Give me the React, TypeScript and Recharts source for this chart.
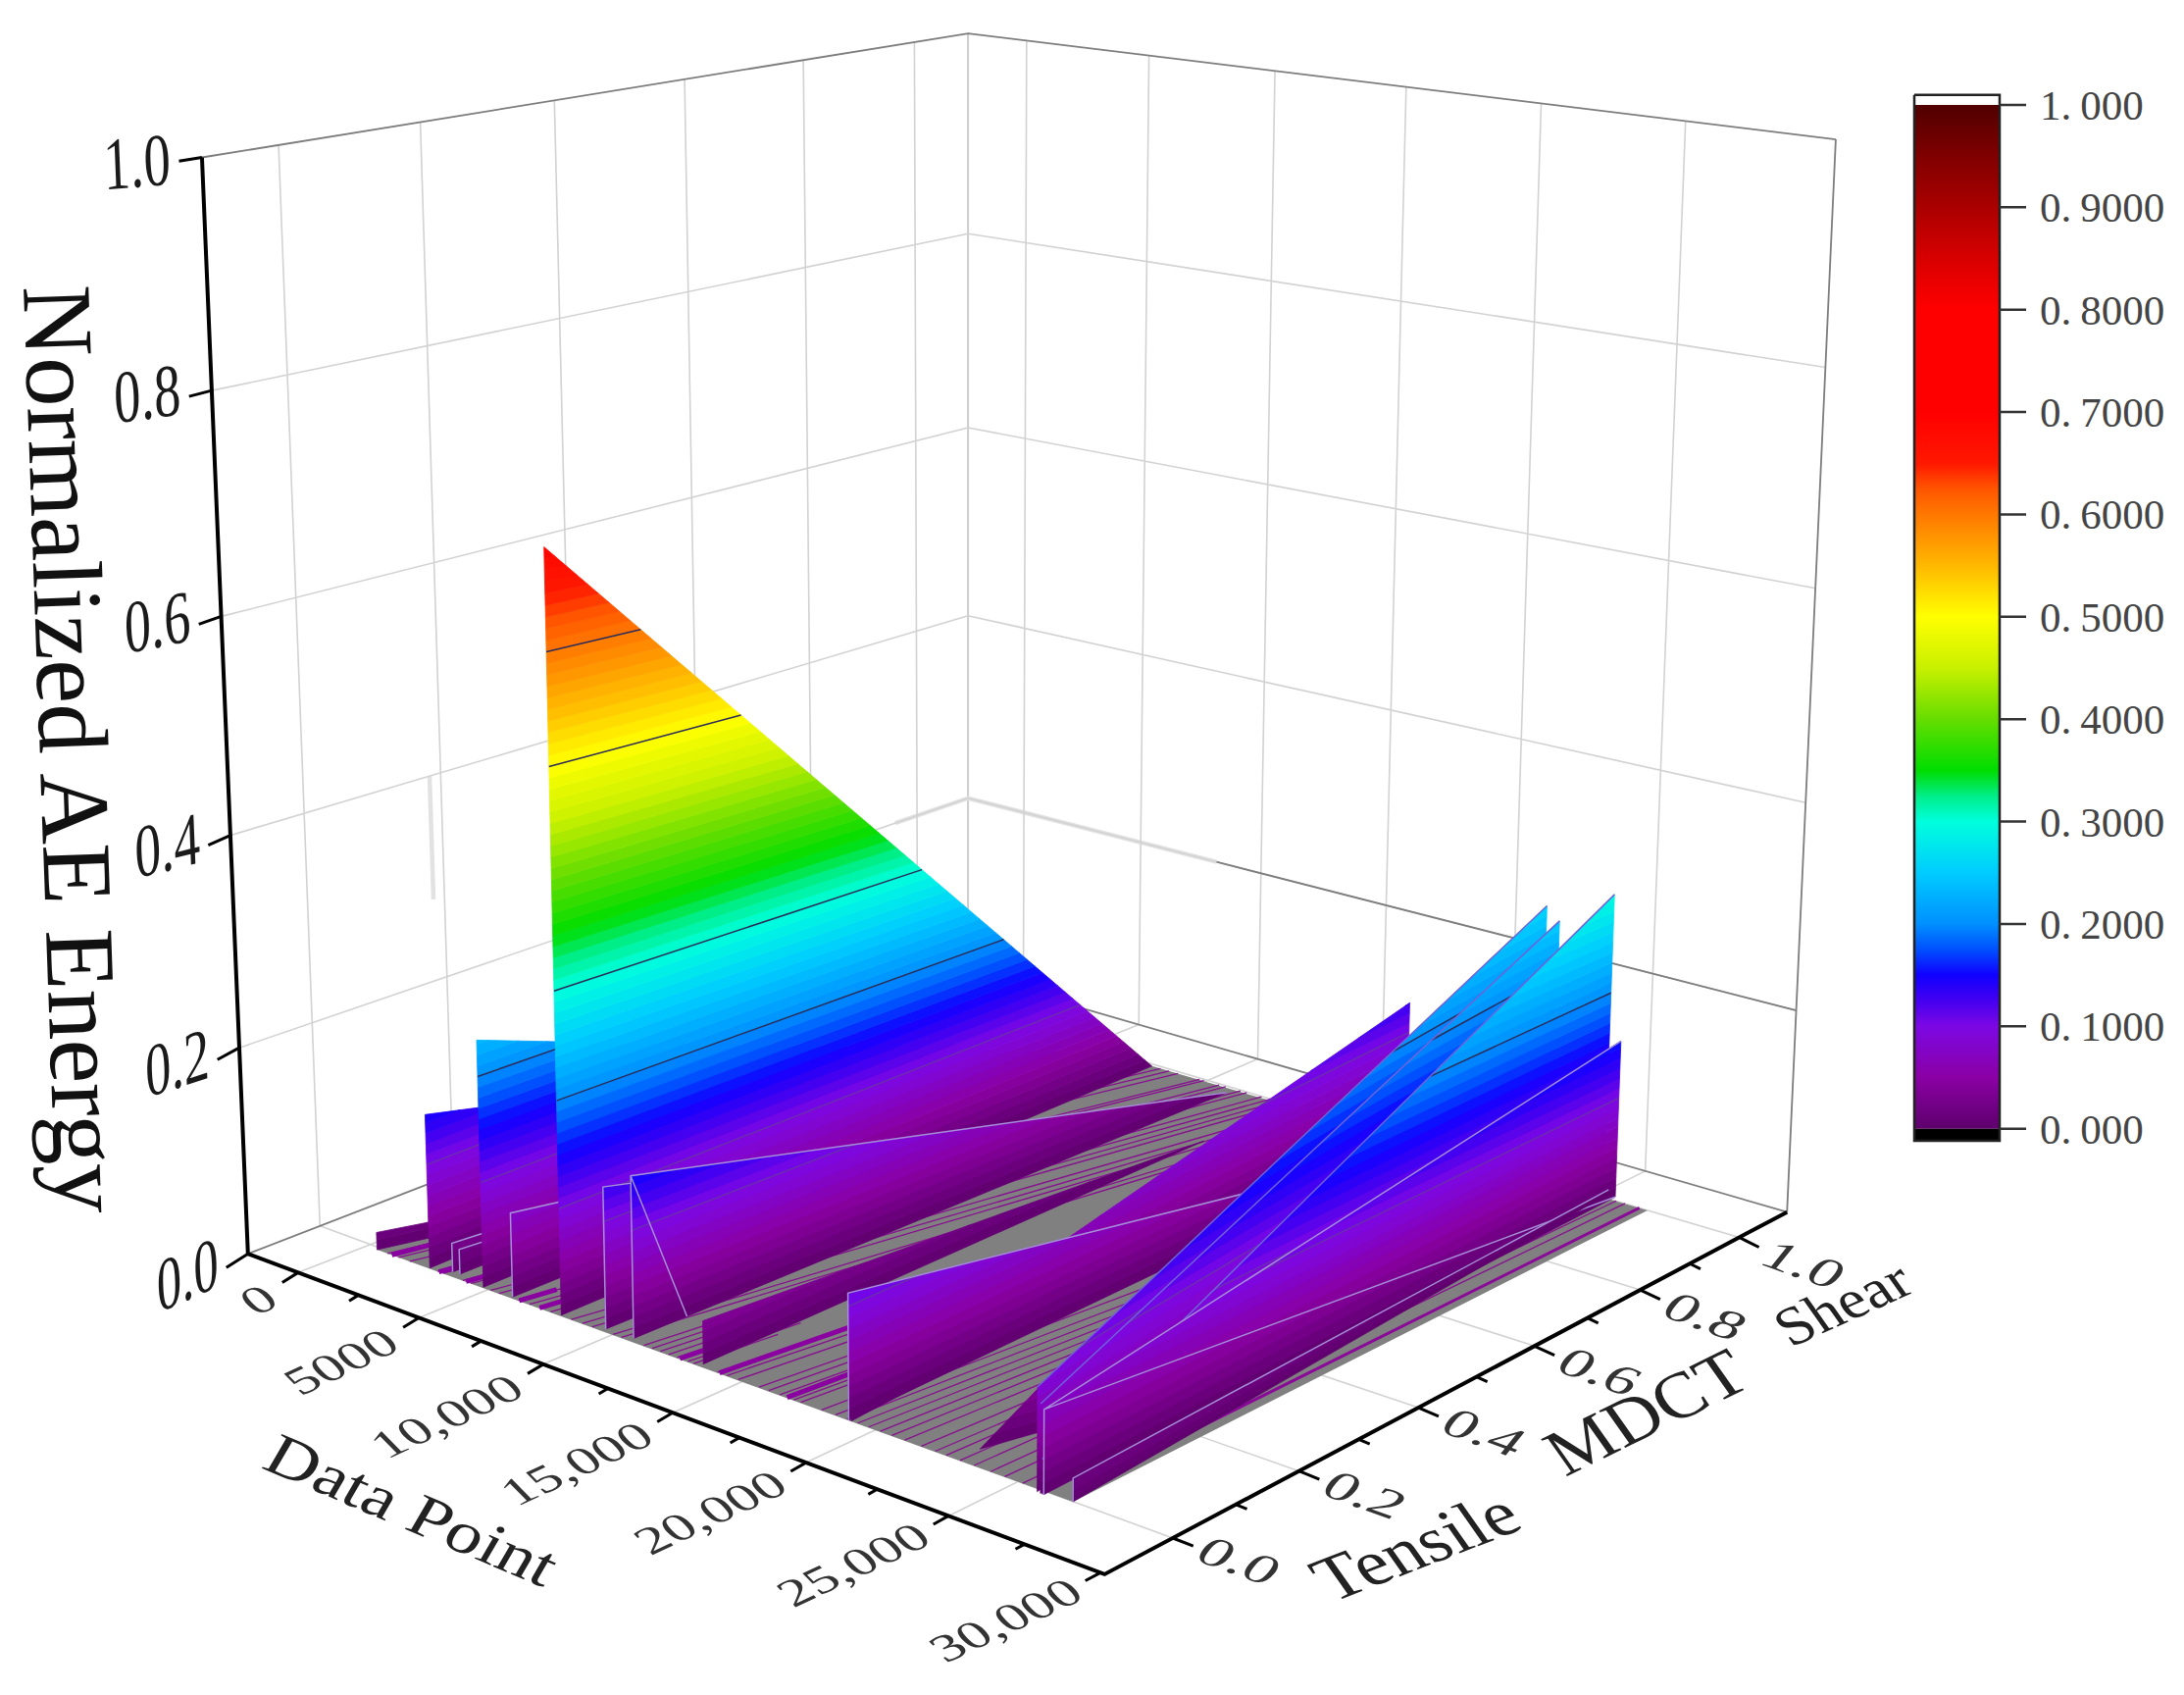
import React from 'react';
import { ComposedChart, XAxis, YAxis, Line, Area, Scatter } from 'recharts';

// ---------- values ----------
const xTicks = [0, 5000, 10000, 15000, 20000, 25000, 30000];
const xTickLabels = ['0', '5000', '10,000', '15,000', '20,000', '25,000', '30,000'];
const xMinorTicks = [2500, 7500, 12500, 17500, 22500, 27500];
const yTicks = [0, 0.2, 0.4, 0.6, 0.8, 1.0];
const yTickLabels = ['0.0', '0.2', '0.4', '0.6', '0.8', '1.0'];
const yMinorTicks = [0.1, 0.3, 0.5, 0.7, 0.9];
const zTicks = [0, 0.2, 0.4, 0.6, 0.8, 1.0];
const zTickLabels = ['0.0', '0.2', '0.4', '0.6', '0.8', '1.0'];
const barTicks = [0, 0.1, 0.2, 0.3, 0.4, 0.5, 0.6, 0.7, 0.8, 0.9, 1.0];
const barTickLabels = ['0.000', '0.1000', '0.2000', '0.3000', '0.4000', '0.5000', '0.6000', '0.7000', '0.8000', '0.9000', '1.000'];

// walls, painted back to front
const wallNames = ['W0', 'W1', 'S1', 'S2', 'W2', 'W3', 'Big', 'W4', 'W5', 'Bd', 'RA', 'R0', 'RT', 'RB', 'RC', 'RD', 'RE', 'RF'];
const wallFrontX = [1100, 3209, 3965, 4238, 5368, 6491, 8433, 10089, 11118, 13771, 19373, 19277, 23140, 25863, 25990, 26050, 26100, 26920];
const wallFrontY = [-0.029, -0.026, -0.019, -0.018, -0.024, -0.022, -0.021, -0.016, -0.014, -0.012, -0.012, -0.012, 0.024, -0.01, -0.011, -0.011, -0.011, -0.004];
const wallFrontZ = [0.017, 0.148, 0.028, 0.024, 0.234, 0.08, 0.69, 0.132, 0.15, 0.0395, 0.03, 0.1116, 0, 0.0885, 0.0758, 0.0297, 0.072, 0.02];
const wallRearX = [10360, 7541, 6625, 6842, 9841, 10093, 12490, 13880, 15130, 16420, 20165, 21097, 23741, 23885, 24350, 26190, 26580, 26350];
const wallRearY = [0.562, 0.683, 0.386, 0.366, 0.732, 0.573, 0.784, 0.683, 0.8, 0.696, 0.899, 0.851, 0.091, 0.959, 0.959, 0.959, 0.959, 0.959];
const wallRearZ = [0, 0, 0, 0, 0, 0, 0, 0, 0, 0, 0.131, 0, 0.04, 0.26, 0.25, 0.297, 0.157, 0.004];
const wallOutlined = ['S1', 'S2', 'W3', 'W4', 'W5', 'R0', 'RE', 'RF'];
const wallTopOnly = ['RB', 'RC', 'RD'];
const contourLevels = [0.1, 0.2, 0.3, 0.5, 0.6];
const diagonalWalls = ['W5', 'RE'];
const diagonalEnds = [0.09, 1];

// floor outline
const hullX = [1071, 26920, 27600, 12490];
const hullY = [-0.029, -0.004, 0.964, 0.784];

// streaks on the floor, by data point where they meet the front edge
const streakX = [1521, 1972, 2425, 3553, 3777, 4567, 4904, 5675, 6003, 6770, 7208, 7644, 8030, 8849, 9287, 9670, 10473, 10787, 14415, 14782, 15196, 15965, 16320, 16732, 17245, 17499, 18267, 18778, 19200, 19600, 20000, 20400, 20800, 21240, 21813, 22290, 22673, 23150, 23630, 24204, 24686, 25290, 25740];
const shortStreakX = [11633, 11944, 12258, 12575, 12890, 13310, 13520];
const shortStreakTo = [0.14, 0.16, 0.18, 0.15, 0.2, 0.16, 0.12];
const thickX = [1700, 3600, 4700, 6800, 7600, 13000, 14500, 17000, 26500];
const thickFrom = [0, 0, 0, 0, 0, 0, 0, 0, 0.05];
const thickTo = [0.06, 0.05, 0.05, 0.05, 0.05, 0.05, 0.25, 0.13, 1];

// colour map
const cmapValues = [0, 0.05, 0.1, 0.125, 0.15, 0.175, 0.2, 0.25, 0.3, 0.325, 0.35, 0.4, 0.45, 0.5, 0.55, 0.6, 0.625, 0.65, 0.7, 0.8, 0.85, 0.9, 0.95, 1];
const cmapColors = ['#5e006c', '#8a00a4', '#7d08e4', '#4400f0', '#1000ff', '#0050ff', '#0090ff', '#00ccff', '#00ffdd', '#00ee88', '#00dd00', '#66dd00', '#c8f000', '#ffff00', '#ffb800', '#ff7800', '#ff5500', '#ff1800', '#ff0000', '#ff0000', '#d80000', '#aa0000', '#800000', '#500000'];

// ---------- camera ----------
const W = 2227;
const H = 1728;
const SCALE = 2227 / 1568;
const FLOOR = [[178, 900], [793, 1130], [1283, 870], [695, 572]];
const FRAME_FLOOR = [[178, 900], [793, 1130], [1283, 870], [695, 700]];
const TOP = [[145, 113], [800, 176], [1318, 100], [695, 24]];
const uStops = [0.0585, 0.1995, 0.3447, 0.4959, 0.6515, 0.8179, 0.9951];
const vStops = [0.1, 0.285, 0.46, 0.63, 0.785, 0.93];

const piecewise = (t: number, xs: number[], ys: number[]) => {
  let i = 0;
  while (i < xs.length - 2 && t > xs[i + 1]) i++;
  return ys[i] + ((t - xs[i]) * (ys[i + 1] - ys[i])) / (xs[i + 1] - xs[i]);
};
const U = (x: number) => piecewise(x, xTicks, uStops);
const V = (y: number) => piecewise(y, yTicks, vStops);
const bil = (q: number[][], u: number, v: number, k: number) =>
  q[0][k] * (1 - u) * (1 - v) + q[1][k] * u * (1 - v) + q[2][k] * u * v + q[3][k] * (1 - u) * v;
const project = (floor: number[][], u: number, v: number, z: number) => {
  const g = z / (1 + 0.08 * (1 - z));
  const f = [bil(floor, u, v, 0), bil(floor, u, v, 1)];
  const t = [bil(TOP, u, v, 0), bil(TOP, u, v, 1)];
  return { px: (f[0] + (t[0] - f[0]) * g) * SCALE, py: (f[1] + (t[1] - f[1]) * g) * SCALE };
};
const box = (u: number, v: number, z: number) => project(FLOOR, u, v, z);
const frame = (u: number, v: number, z: number) => project(FRAME_FLOOR, u, v, z);
const RIGHT_WALL_SHIFT = 0.009;
type P = { px: number; py: number | null };

const rowsOf = (segs: P[][]) => {
  const out: P[] = [];
  segs.forEach((s) => {
    s.forEach((p) => out.push(p));
    out.push({ px: s[s.length - 1].px, py: null });
  });
  return out;
};

const envelope = (poly: { px: number; py: number }[]) => {
  const xs = Array.from(new Set(poly.map((p) => p.px))).sort((a, b) => a - b);
  return xs.map((x) => {
    const ys: number[] = [];
    poly.forEach((p, i) => {
      const q = poly[(i + 1) % poly.length];
      if (p.px === x) ys.push(p.py);
      if ((p.px - x) * (q.px - x) < 0) ys.push(p.py + ((x - p.px) * (q.py - p.py)) / (q.px - p.px));
    });
    return { px: x, range: [Math.min(...ys), Math.max(...ys)] };
  });
};

const hex = (c: string) => [1, 3, 5].map((i) => parseInt(c.slice(i, i + 2), 16));
const colourAt = (z: number) => {
  let i = 0;
  while (i < cmapValues.length - 2 && z > cmapValues[i + 1]) i++;
  const t = Math.min(1, Math.max(0, (z - cmapValues[i]) / (cmapValues[i + 1] - cmapValues[i])));
  const a = hex(cmapColors[i]);
  const b = hex(cmapColors[i + 1]);
  return `rgb(${a.map((v, k) => Math.round(v + (b[k] - v) * t)).join(',')})`;
};

// ---------- wall geometry ----------
const wallEnd = (i: number, rear: boolean, z: number) =>
  rear ? box(U(wallRearX[i]), V(wallRearY[i]), z) : box(U(wallFrontX[i]), V(wallFrontY[i]), z);
const lerp = (a: any, b: any, t: number) => ({ px: a.px + (b.px - a.px) * t, py: a.py + (b.py - a.py) * t });
const wallLevelRange = (i: number, z: number) => {
  const za = wallFrontZ[i];
  const zb = wallRearZ[i];
  if (za === zb) return [0, 1];
  const t0 = wallEnd(i, false, za);
  const t1 = wallEnd(i, true, zb);
  const a = wallEnd(i, false, z);
  const c = wallEnd(i, true, z);
  const dx1 = c.px - a.px;
  const dy1 = c.py - a.py;
  const dx2 = t1.px - t0.px;
  const dy2 = t1.py - t0.py;
  const den = dx1 * dy2 - dy1 * dx2;
  const t = den === 0 ? 0 : Math.min(1, Math.max(0, ((t0.px - a.px) * dy2 - (t0.py - a.py) * dx2) / den));
  if (za > zb) return [0, z <= zb ? 1 : t];
  return [z <= za ? 0 : t, 1];
};
const wallPoint = (i: number, t: number, z: number) => lerp(wallEnd(i, false, z), wallEnd(i, true, z), t);
const wallStrips = (i: number) => {
  const a = wallFrontZ[i];
  const b = wallRearZ[i];
  const top = Math.max(a, b);
  const levels = new Set<number>([0, a, b]);
  for (let k = 1; k * 0.01 < top; k++) levels.add(k * 0.01);
  const sorted = Array.from(levels).sort((m, n) => m - n);
  const strips: { rows: any[]; colour: string }[] = [];
  for (let k = 0; k + 1 < sorted.length; k++) {
    const lo = sorted[k];
    const hi = sorted[k + 1];
    const r0 = wallLevelRange(i, lo);
    const r1 = wallLevelRange(i, hi);
    const poly = [wallPoint(i, r0[0], lo), wallPoint(i, r0[1], lo), wallPoint(i, r1[1], hi), wallPoint(i, r1[0], hi)];
    strips.push({ rows: envelope(poly), colour: colourAt((lo + hi) / 2) });
  }
  return strips;
};
const wallContours = (i: number, level: number) => {
  if (level >= Math.max(wallFrontZ[i], wallRearZ[i])) return [];
  const r = wallLevelRange(i, level);
  return [[wallPoint(i, r[0], level), wallPoint(i, r[1], level)]];
};
const wallOutline = (i: number) => {
  const name = wallNames[i];
  const segs: P[][] = [];
  if (wallTopOnly.includes(name)) {
    segs.push([wallEnd(i, false, wallFrontZ[i]), wallEnd(i, true, wallRearZ[i])]);
  }
  if (wallOutlined.includes(name)) {
    segs.push([wallEnd(i, false, 0), wallEnd(i, false, wallFrontZ[i]), wallEnd(i, true, wallRearZ[i])]);
    const d = diagonalWalls.indexOf(name);
    if (d >= 0) segs.push([wallEnd(i, false, wallFrontZ[i]), wallPoint(i, diagonalEnds[d], 0)]);
  }
  return segs;
};

// ---------- scaffolding built from the ticks ----------
const gridSegs: P[][] = [];
xTicks.slice(0, 6).map(U).forEach((u) => {
  gridSegs.push([frame(u + RIGHT_WALL_SHIFT, 1, 0), frame(u + RIGHT_WALL_SHIFT, 1, 1)]);
  gridSegs.push([frame(u, 0, 0), frame(u + RIGHT_WALL_SHIFT, 1, 0)]);
});
yTicks.map(V).forEach((v) => {
  gridSegs.push([frame(0, v, 0), frame(0, v, 1)]);
  gridSegs.push([frame(0, v, 0), frame(1, v, 0)]);
});
zTicks.slice(1, 5).forEach((z) => {
  gridSegs.push([frame(0, 0, z), frame(0, 1, z)]);
  gridSegs.push([frame(0, 1, z), frame(1, 1, z)]);
});
const frameSegs: P[][] = [
  [frame(0, 0, 1), frame(0, 1, 1), frame(1, 1, 1)],
  [frame(0, 0, 0), frame(0, 1, 0), frame(1, 1, 0)],
  [frame(1, 1, 0), frame(1, 1, 1)],
  [frame(0.3, 1, 0.2), frame(1, 1, 0.2)],
];
const paleSegs: P[][] = [[frame(0, 1, 0), frame(0, 1, 1)]];
const ghostSegs: P[][] = [
  [frame(0, 0.27, 0.4), frame(0, 0.27, 0.28)],
  [frame(0, 0.9, 0.2), frame(0, 1, 0.2), frame(0.3, 1, 0.2)],
];
const axisSegs: P[][] = [[frame(0, 0, 1), frame(0, 0, 0), frame(1, 0, 0), frame(1, 1, 0)]];
const tickSegs: P[][] = [];
xTicks.forEach((x) => tickSegs.push([box(U(x), 0, 0), box(U(x), -0.022, 0)]));
xMinorTicks.forEach((x) => tickSegs.push([box(U(x), 0, 0), box(U(x), -0.013, 0)]));
yTicks.forEach((y) => tickSegs.push([box(1, V(y), 0), box(1.024, V(y), 0)]));
yMinorTicks.forEach((y) => tickSegs.push([box(1, V(y), 0), box(1.013, V(y), 0)]));
zTicks.forEach((z) => tickSegs.push([box(0, 0, z), box(0, -0.03, z)]));

const hullU = hullX.map(U);
const hullV = hullY.map(V);
const floorRows = envelope(hullU.map((u, i) => box(u, hullV[i], 0)));
const streakEnds = (x: number, s0: number, s1: number) => {
  const f = (x - hullX[0]) / (hullX[1] - hullX[0]);
  const u0 = U(x);
  const v0 = hullV[0] + (hullV[1] - hullV[0]) * f;
  const u1 = hullU[3] + (hullU[2] - hullU[3]) * f;
  const v1 = hullV[3] + (hullV[2] - hullV[3]) * f;
  return [box(u0 + (u1 - u0) * s0, v0 + (v1 - v0) * s0, 0), box(u0 + (u1 - u0) * s1, v0 + (v1 - v0) * s1, 0)];
};
const streakSegs = [
  ...streakX.map((x) => streakEnds(x, 0, 1)),
  ...shortStreakX.map((x, i) => streakEnds(x, 0, shortStreakTo[i])),
];
const thickSegs = thickX.slice(0, 8).map((x, i) => streakEnds(x, thickFrom[i], thickTo[i]));
const edgeStripSegs = [streakEnds(thickX[8], thickFrom[8], thickTo[8])];

// colour bar
const barLeft = 1952;
const barRight = 2039;
const barY = (v: number) => 1150.7 - v * 1043.7;
const barBody = [{ px: barLeft, range: [barY(1), barY(0)] }, { px: barRight, range: [barY(1), barY(0)] }];
const barWhite = [{ px: barLeft, range: [96.7, barY(1)] }, { px: barRight, range: [96.7, barY(1)] }];
const barBlack = [{ px: barLeft, range: [barY(0), 1163] }, { px: barRight, range: [barY(0), 1163] }];
const barOutline: P[][] = [[{ px: barLeft, py: 96.7 }, { px: barRight, py: 96.7 }, { px: barRight, py: 1163 }, { px: barLeft, py: 1163 }, { px: barLeft, py: 96.7 }]];
const barTickSegs: P[][] = barTicks.map((v) => [{ px: barRight, py: barY(v) }, { px: 2066, py: barY(v) }]);

// ---------- labels ----------
type L = { px: number; py: number; text: string; m: number[]; size: number; anchor: string; colour: string; bar?: boolean };
const deg = (a: number) => (a * Math.PI) / 180;
const zAngles = [-24, -18, -14, -11, -8, -5];
const zLabelDrop = [14, 14, 14, 14, 16, 22];
const labels: L[] = [];
zTicks.forEach((z, i) => {
  const p = box(0, -0.04, z);
  const a = deg(zAngles[i]);
  labels.push({ px: p.px, py: p.py + zLabelDrop[i], text: zTickLabels[i], m: [0.72 * Math.cos(a), 0.72 * Math.sin(a), 0.04, 1], size: 76, anchor: 'end', colour: '#1a1a1a' });
});
xTicks.forEach((x, i) => {
  const p = box(U(x), -0.075, 0);
  labels.push({ px: p.px + 38, py: p.py - 2, text: xTickLabels[i], m: [0.9, -0.42, 0.55, 0.56], size: 58, anchor: 'end', colour: '#333' });
});
yTicks.forEach((y, i) => {
  const p = box(1.055, V(y), 0);
  labels.push({ px: p.px - 28, py: p.py + 3, text: yTickLabels[i], m: [1.05, 0.38, -0.5, 0.62], size: 58, anchor: 'start', colour: '#333' });
});
barTicks.forEach((v, i) => {
  labels.push({ px: 2080, py: barY(v) + 15, text: barTickLabels[i], m: [1, 0, 0, 1], size: 43, anchor: 'start', colour: '#444', bar: true });
});
labels.push({ px: 24, py: 292, text: 'Normalized AE Energy', m: [0.035, 1, -1, 0.035], size: 101, anchor: 'start', colour: '#111' });
labels.push({ px: 265, py: 1496, text: 'Data Point', m: [0.92, 0.39, -0.42, 0.72], size: 74, anchor: 'start', colour: '#222' });
labels.push({ px: 1358, py: 1634, text: 'Tensile', m: [0.93, -0.36, 0.55, 0.78], size: 74, anchor: 'start', colour: '#222' });
labels.push({ px: 1596, py: 1506, text: 'MDCT', m: [0.9, -0.44, 0.55, 0.78], size: 74, anchor: 'start', colour: '#222' });
labels.push({ px: 1826, py: 1374, text: 'Shear', m: [0.91, -0.41, 0.55, 0.78], size: 62, anchor: 'start', colour: '#222' });

const LabelShape = (props: any) => {
  const d: L = props.payload;
  const m = d.m;
  const parts = d.text.split('.');
  return (
    <text
      transform={`matrix(${m[0]} ${m[1]} ${m[2]} ${m[3]} ${props.cx} ${props.cy})`}
      fontFamily="'Liberation Serif', serif"
      fontSize={d.size}
      textAnchor={d.anchor}
      fill={d.colour}
    >
      {d.bar ? (
        <>
          <tspan>{parts[0]}.</tspan>
          <tspan dx={9}>{parts[1]}</tspan>
        </>
      ) : (
        d.text
      )}
    </text>
  );
};

const lineItem = (key: string, segs: P[][], stroke: string, width: number, z: number) => (
  <Line
    key={key}
    data={rowsOf(segs)}
    dataKey="py"
    stroke={stroke}
    strokeWidth={width}
    dot={false}
    activeDot={false}
    isAnimationActive={false}
    legendType="none"
    strokeLinecap="butt"
    zIndex={z}
  />
);
const areaItem = (key: string, rows: any[], fill: string, z: number, stroke: any = 'none', width = 0) => (
  <Area
    key={key}
    data={rows}
    dataKey="range"
    type="linear"
    fill={fill}
    fillOpacity={1}
    stroke={stroke}
    strokeWidth={width}
    dot={false}
    activeDot={false}
    isAnimationActive={false}
    legendType="none"
    zIndex={z}
  />
);

export default function App() {
  const walls: React.ReactNode[] = [];
  wallNames.forEach((name, i) => {
    const z = 1000 + i * 10;
    wallStrips(i).forEach((s, k) => walls.push(areaItem(`${name}-${k}`, s.rows, s.colour, z, s.colour, 0.8)));
    const soft = contourLevels.slice(0, 1).flatMap((l) => wallContours(i, l));
    const hard = contourLevels.slice(1).flatMap((l) => wallContours(i, l));
    if (soft.length) walls.push(lineItem(`${name}-soft`, soft, '#6b2fae', 1.4, z + 1));
    if (hard.length) walls.push(lineItem(`${name}-hard`, hard, '#2c2c58', 1.5, z + 1));
    const edge = wallOutline(i);
    if (edge.length) walls.push(lineItem(`${name}-edge`, edge, wallTopOnly.includes(name) ? '#6f63d8' : '#a58fd6', 1.5, z + 2));
  });
  return (
    <div style={{ position: 'absolute', left: 0, top: 0, width: W, height: H, background: '#fff' }}>
      <ComposedChart width={W} height={H} margin={{ top: 0, right: 0, bottom: 0, left: 0 }}>
        <defs>
          <linearGradient id="cbar" x1="0" y1="0" x2="0" y2="1">
            {cmapValues.map((v, i) => (
              <stop key={v} offset={1 - v} stopColor={cmapColors[i]} />
            )).reverse()}
          </linearGradient>
        </defs>
        <XAxis type="number" dataKey="px" domain={[0, W]} hide allowDataOverflow scale="linear" />
        <YAxis type="number" dataKey="py" domain={[0, H]} reversed hide allowDataOverflow scale="linear" />
        {lineItem('pale', paleSegs, '#cdcdcd', 2, 10)}
        {lineItem('ghost', ghostSegs, '#e2e2e2', 4.5, 10)}
        {lineItem('grid', gridSegs, '#d2d2d2', 1.6, 11)}
        {lineItem('frame', frameSegs, '#7d7d7d', 1.8, 12)}
        {areaItem('floor', floorRows, '#808080', 20)}
        {lineItem('streaks', streakSegs, '#86108e', 1.3, 21)}
        {lineItem('thick', thickSegs, '#8a00a0', 5, 22)}
        {lineItem('edgeStrip', edgeStripSegs, '#8a0a98', 3, 22)}
        {walls}
        {lineItem('axes', axisSegs, '#000', 4, 2000)}
        {lineItem('ticks', tickSegs, '#000', 3, 2001)}
        {areaItem('bar', barBody, 'url(#cbar)', 2002)}
        {areaItem('barW', barWhite, '#fff', 2002)}
        {areaItem('barB', barBlack, '#000', 2002)}
        {lineItem('barO', barOutline, '#222', 2.5, 2003)}
        {lineItem('barT', barTickSegs, '#333', 2.5, 2003)}
        <Scatter data={labels} shape={LabelShape} isAnimationActive={false} legendType="none" zIndex={2010} />
      </ComposedChart>
    </div>
  );
}
